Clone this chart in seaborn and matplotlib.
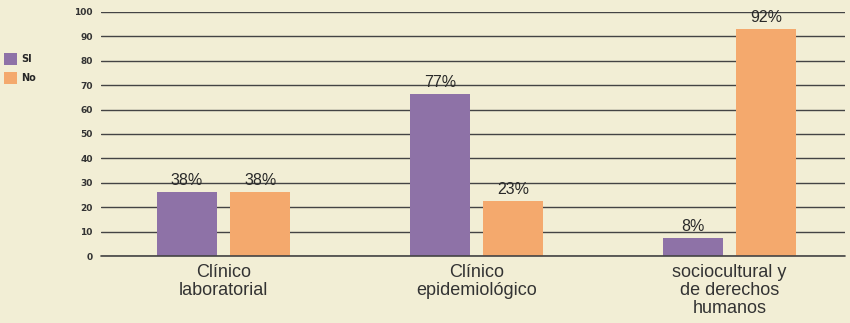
import matplotlib
matplotlib.use("Agg")
import matplotlib.pyplot as plt
import seaborn as sns
import pandas as pd
from matplotlib.patches import Patch

categories = ["Clínico\nlaboratorial", "Clínico\nepidemiológico", "sociocultural y\nde derechos\nhumanos"]
series_names = ["SI", "No"]
si_values = [26.3, 66.5, 7.2]
no_values = [26.3, 22.5, 93.0]
si_labels = ["38%", "77%", "8%"]
no_labels = ["38%", "23%", "92%"]
y_ticks = [0, 10, 20, 30, 40, 50, 60, 70, 80, 90, 100]

bg = "#F2EED5"
colors = ["#8E72A7", "#F4A96D"]

df = pd.DataFrame({
    "cat": categories * 2,
    "serie": [series_names[0]] * 3 + [series_names[1]] * 3,
    "val": si_values + no_values,
})

sns.set_theme(style="white")
plt.rcParams["font.family"] = ["Liberation Sans", "DejaVu Sans"]

fig = plt.figure(figsize=(8.5, 3.23), dpi=100, facecolor=bg)
ax = fig.add_axes([0.119, 0.2074, 0.875, 0.7556])
ax.set_facecolor(bg)

sns.barplot(data=df, x="cat", y="val", hue="serie", order=categories,
            hue_order=series_names, palette=colors, width=0.58, gap=0.18,
            saturation=1, ax=ax, legend=False, zorder=3)

for p in ax.patches:
    p.set_edgecolor("none")

label_sets = [si_labels, no_labels]
for cont, labs in zip(ax.containers, label_sets):
    ax.bar_label(cont, labels=labs, padding=3, fontsize=11.5, color="#2a2a2a")

ax.set_ylim(0, 100)
ax.set_xlim(-0.484, 2.457)
ax.set_yticks(y_ticks)
ax.set_yticklabels([str(t) for t in y_ticks], fontsize=6.5, fontweight="bold",
                   color="#333333", family="DejaVu Sans")
ax.yaxis.grid(True, color="#444444", linewidth=1.0, zorder=0)
ax.axhline(0, color="#444444", linewidth=1.2, zorder=4, clip_on=False)
ax.set_axisbelow(True)
ax.tick_params(axis="y", length=0, pad=6)
ax.tick_params(axis="x", length=0, pad=6, labelsize=13, labelcolor="#333333")
for lab in ax.get_xticklabels():
    lab.set_linespacing(1.05)
for s in ax.spines.values():
    s.set_visible(False)
ax.set_xlabel("")
ax.set_ylabel("")

handles = [Patch(facecolor=c, edgecolor="none") for c in colors]
fig.legend(handles, series_names, loc="upper left",
           bbox_to_anchor=(4 / 850, 1 - 53 / 323),
           frameon=False, handlelength=1.35, handleheight=1.6,
           handletextpad=0.4, labelspacing=0.65, borderpad=0, borderaxespad=0,
           prop={"weight": "bold", "size": 7, "family": "DejaVu Sans"})

fig.savefig("out.png", dpi=100, facecolor=bg)
